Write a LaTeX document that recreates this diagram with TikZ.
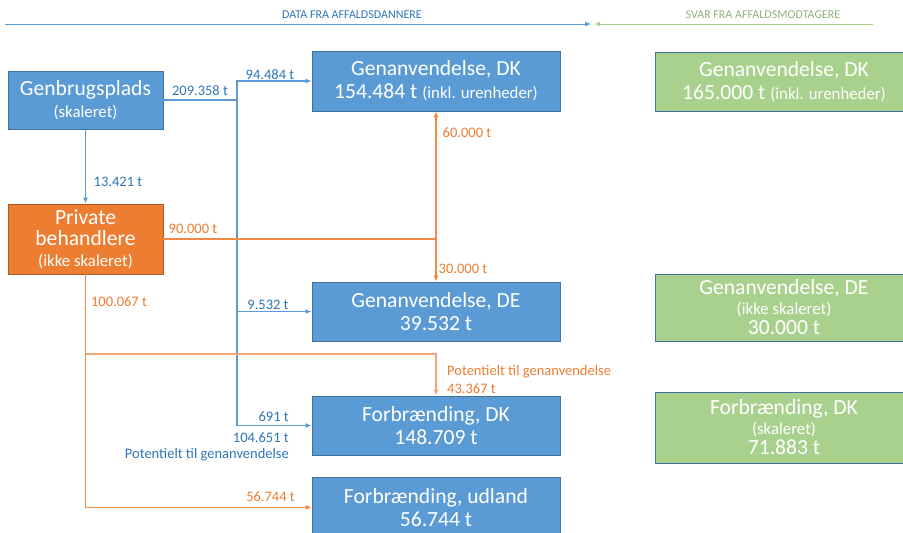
\documentclass[tikz,border=0pt]{standalone}
\usepackage{fontspec}
\setmainfont{Carlito}
\usetikzlibrary{arrows.meta}

\definecolor{boxblue}{HTML}{5B9BD5}
\definecolor{edgeblue}{HTML}{41719C}
\definecolor{boxorange}{HTML}{ED7D31}
\definecolor{edgeorange}{HTML}{AE5A21}
\definecolor{boxgreen}{HTML}{A9D18E}
\definecolor{txtblue}{HTML}{2E75B6}
\definecolor{lineorange}{HTML}{F08A45}

\newcommand{\titlesize}{\fontsize{21.6}{24}\selectfont}
\newcommand{\notesize}{\fontsize{16.8}{19}\selectfont}
\newcommand{\flowsize}{\fontsize{14.5}{16}\selectfont}
\newcommand{\headsize}{\fontsize{12}{13}\selectfont}

\tikzset{
  boxb/.style={draw=edgeblue, line width=0.8pt, fill=boxblue, text=white,
    align=center, minimum width=248pt, inner sep=0pt, font=\titlesize},
  boxo/.style={draw=edgeorange, line width=0.8pt, fill=boxorange, text=white,
    align=center, minimum width=155pt, inner sep=0pt, font=\titlesize},
  boxg/.style={draw=edgeblue, line width=0.8pt, fill=boxgreen, text=white,
    align=center, minimum width=258pt, inner sep=0pt, font=\titlesize},
  flowb/.style={draw=boxblue, line width=1.1pt},
  flowo/.style={draw=lineorange, line width=1.1pt},
  tip/.style={-{Latex[length=6pt,width=5pt]}},
  lblb/.style={text=txtblue, font=\flowsize, inner sep=1pt},
  lblo/.style={text=boxorange, font=\flowsize, inner sep=1pt}
}

\begin{document}
\begin{tikzpicture}[x=1pt, y=-1pt]
    \useasboundingbox (0,0) rectangle (903,533);
    \clip (0,0) rectangle (903,533);
    % Header
    \coordinate (dl) at (5,24);
    \coordinate (dr) at (591,24);
    \coordinate (sl) at (594,24);
    \coordinate (sr) at (873,24);
    \draw[flowb, line width=0.9pt, tip] (dl) -- (dr);
    \draw[draw=boxgreen, line width=0.9pt, tip] (sr) -- (sl);
    \node[text=txtblue, font=\headsize] (dhead) at (352,15) {DATA FRA AFFALDSDANNERE};
    \node[text=boxgreen!85!black, font=\headsize] (shead) at (763,15) {SVAR FRA AFFALDSMODTAGERE};
    % Sources
    \node[boxb, minimum width=155pt, minimum height=58pt] (gbp) at (85.5,100)
      {Genbrugsplads\\[-2pt]{\notesize (skaleret)}};
    \node[boxo, minimum height=70pt] (pb) at (85.5,239)
      {Private\\[-3pt]behandlere\\[-3pt]{\notesize (ikke skaleret)}};
    % Receivers
    \node[boxb, minimum height=60pt] (gdk) at (436,81)
      {Genanvendelse, DK\\[-1pt]154.484 t {\notesize (inkl. urenheder)}};
    \node[boxb, minimum height=59pt] (gde) at (436,311.5)
      {Genanvendelse, DE\\[-1pt]39.532 t};
    \node[boxb, minimum height=59pt] (fdk) at (436,425.5)
      {Forbrænding, DK\\[-1pt]148.709 t};
    \node[boxb, minimum height=60pt, anchor=north] (fud) at (436,477)
      {Forbrænding, udland\\[-1pt]56.744 t};
    % Answers
    \node[boxg, minimum height=59pt] (sdk) at (784,81.5)
      {Genanvendelse, DK\\[-1pt]165.000 t {\notesize (inkl. urenheder)}};
    \node[boxg, minimum height=67pt] (sde) at (784,307.5)
      {Genanvendelse, DE\\[-4pt]{\notesize (ikke skaleret)}\\[-4pt]30.000 t};
    \node[boxg, minimum height=71pt] (sfdk) at (784,427.5)
      {Forbrænding, DK\\[-4pt]{\notesize (skaleret)}\\[-4pt]71.883 t};
    % Blue flows
    \coordinate (jb) at (237,100);
    \draw[flowb] (gbp.east) -- (jb);
    \draw[flowb, tip] (jb) |- (gdk.west);
    \draw[flowb, tip] (jb) |- (fdk.west);
    \draw[flowb, tip] (jb |- gde.west) -- (gde.west);
    \draw[flowb, tip] (gbp) -- (pb);
    % Orange flows
    \coordinate (jo) at (pb.east -| gdk.south);
    \draw[flowo] (pb.east) -- (jo);
    \draw[flowo, tip] (jo) -- (gdk.south);
    \draw[flowo, tip] (jo) -- (gde.north);
    \coordinate (jp) at (pb.south |- 0,354);
    \draw[flowo, tip] (pb.south) |- (fud.west);
    \draw[flowo, draw=lineorange!75!white, tip] (jp) -| (fdk.north);
    % Flow labels
    \node[lblb] (l1) at (200,91) {209.358 t};
    \node[lblb] (l2) at (270,75) {94.484 t};
    \node[lblb] (l3) at (118,182) {13.421 t};
    \node[lblo] (l4) at (193,229) {90.000 t};
    \node[lblo] (l5) at (467,133) {60.000 t};
    \node[lblo] (l6) at (463,269) {30.000 t};
    \node[lblo] (l7) at (119,302) {100.067 t};
    \node[lblb] (l8) at (268,305) {9.532 t};
    \node[lblo, anchor=west] (l9) at (446,372) {Potentielt til genanvendelse};
    \node[lblo, anchor=west] (l10) at (446,389) {43.367 t};
    \node[lblb, anchor=east] (l11) at (290,417) {691 t};
    \node[lblb, anchor=east] (l12) at (290,438) {104.651 t};
    \node[lblb, anchor=east] (l13) at (290,455) {Potentielt til genanvendelse};
    \node[lblo, anchor=east] (l14) at (296,497) {56.744 t};
\end{tikzpicture}
\end{document}
